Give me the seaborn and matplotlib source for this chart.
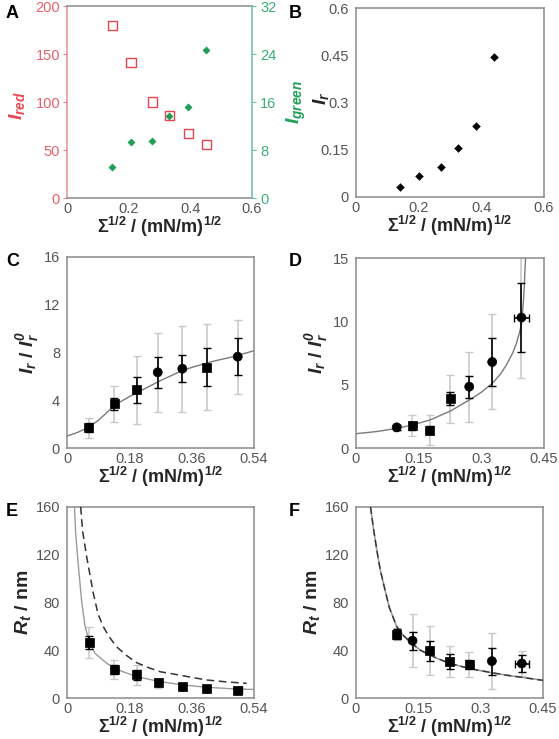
import numpy as np
import pandas as pd
import matplotlib
matplotlib.use("Agg")
import matplotlib.pyplot as plt
import seaborn as sns

# ---------------- data ----------------
# Panel A
a_x_red = [0.147, 0.208, 0.277, 0.333, 0.394, 0.452]
a_red = [180, 141, 100, 86, 67, 55.5]
a_x_green = [0.147, 0.206, 0.276, 0.332, 0.391, 0.451]
a_green = [5.1, 9.3, 9.5, 13.6, 15.1, 24.6]

# Panel B
b_x = [0.142, 0.202, 0.270, 0.327, 0.384, 0.442]
b_y = [0.033, 0.066, 0.095, 0.156, 0.226, 0.445]

# Panel C
c_x = [0.0635, 0.137, 0.202, 0.262, 0.333, 0.403, 0.493]
c_y = [1.70, 3.71, 4.86, 6.34, 6.64, 6.76, 7.65]
c_err_black = [0.4, 0.5, 1.1, 1.3, 1.15, 1.6, 1.55]
c_err_grey = [0.85, 1.5, 2.85, 3.3, 3.6, 3.6, 3.1]
c_mk = ['s', 's', 's', 'o', 'o', 's', 'o']
c_fit_x = [0, 0.03, 0.06, 0.09, 0.12, 0.15, 0.18, 0.21, 0.24, 0.27, 0.30,
           0.33, 0.36, 0.39, 0.42, 0.45, 0.48, 0.51, 0.54]
c_fit_y = [1.0, 1.3, 1.7, 2.3, 3.1, 3.8, 4.3, 4.75, 5.2, 5.65, 6.05,
           6.45, 6.75, 7.0, 7.25, 7.45, 7.65, 7.9, 8.15]

# Panel D
d_x = [0.0974, 0.135, 0.177, 0.226, 0.271, 0.326, 0.396]
d_y = [1.63, 1.74, 1.42, 3.89, 4.84, 6.79, 10.3]
d_err_black = [0.2, 0.3, 0.35, 0.5, 0.88, 1.92, 2.7]
d_err_grey = [0.25, 0.83, 1.2, 1.9, 2.75, 3.75, 4.8]
d_xerr = [0, 0, 0, 0, 0, 0, 0.0175]
d_mk = ['o', 's', 's', 's', 'o', 'o', 'o']
d_fit_x = [0, 0.05, 0.0974, 0.135, 0.177, 0.226, 0.271, 0.30, 0.326, 0.345,
           0.36, 0.375, 0.384, 0.392, 0.397, 0.402, 0.406, 0.409]
d_fit_y = [1.13, 1.3, 1.55, 1.82, 2.21, 2.92, 3.79, 4.4, 5.1, 5.8,
           6.55, 7.5, 8.26, 9.2, 9.97, 12.2, 15.2, 17.0]

# Panel E
e_x = [0.0645, 0.136, 0.201, 0.263, 0.333, 0.403, 0.493]
e_y = [46.3, 23.7, 19.3, 12.6, 9.5, 7.8, 6.7]
e_err_black = [5.5, 4, 4, 2.5, 2, 2, 2]
e_err_grey = [13, 8, 8, 4, 3, 3, 3]
e_xerr = [0, 0, 0, 0, 0, 0, 0.012]
e_mk = ['s', 's', 's', 's', 's', 's', 's']
e_fit_x = [0.0215, 0.025, 0.033, 0.042, 0.052, 0.0635, 0.081, 0.115, 0.148,
           0.201, 0.269, 0.336, 0.403, 0.49, 0.54]
e_fit_y = [160, 138, 110, 82, 60, 48.6, 37.4, 29, 23.5,
           17.9, 13.7, 10.9, 9.0, 7.5, 7.2]
e_dash_x = [0.0395, 0.045, 0.057, 0.076, 0.09, 0.105, 0.12, 0.143, 0.17, 0.201,
            0.235, 0.269, 0.30, 0.333, 0.37, 0.403, 0.46, 0.519]
e_dash_y = [160, 140, 118, 87.7, 70, 59.7, 52, 43, 36, 29.6,
            25.5, 22, 20.5, 18.7, 16.8, 15.1, 13.5, 12.3]

# Panel F
f_x = [0.098, 0.136, 0.178, 0.226, 0.272, 0.327, 0.399]
f_y = [53.6, 48, 39.5, 30.6, 28.1, 30.9, 28.9]
f_err_black = [4, 7.5, 8.4, 6, 4, 11.4, 7]
f_err_grey = [5, 22, 20.4, 12.8, 10.8, 23.4, 10.8]
f_xerr = [0, 0, 0, 0, 0, 0, 0.0175]
f_mk = ['s', 'o', 's', 's', 's', 'o', 'o']
f_fit_x = [0.035, 0.042, 0.05, 0.058, 0.066, 0.08, 0.098, 0.115, 0.136, 0.155,
           0.178, 0.2, 0.226, 0.25, 0.272, 0.3, 0.327, 0.36, 0.399, 0.45]
f_fit_y = [160, 142, 124, 108, 96, 76, 59.7, 52, 45.2, 40,
           36, 32.5, 29, 26.8, 24.8, 22.9, 21.2, 19.2, 17.3, 14.8]

# ---------------- style ----------------
sns.set_style("white")
plt.rcParams['font.family'] = ['Liberation Sans', 'DejaVu Sans']
plt.rcParams['mathtext.fontset'] = 'custom'
plt.rcParams['mathtext.rm'] = 'Liberation Sans'
plt.rcParams['mathtext.it'] = 'Liberation Sans:italic'
plt.rcParams['mathtext.bf'] = 'Liberation Sans:bold'
plt.rcParams['mathtext.bfit'] = 'Liberation Sans:italic:bold'
plt.rcParams['mathtext.sf'] = 'Liberation Sans'

SPINE = '#8a8a8a'
TICKC = '#555555'
RED = '#e8464e'
RED_L = '#e8606a'
GREEN = '#1f9f55'
GREEN_L = '#3aae78'
GREY_EB = '#c9c9c9'
TICK_FS = 10.5
YL_FS = 14

XLABEL = 'Σ$^{\\mathbf{1/2}}$ / (mN/m)$^{\\mathbf{1/2}}$'

fig = plt.figure(figsize=(5.59, 7.39), dpi=100)

W, H = 559.0, 739.0
def pos(l, r, t, b):
    return [l / W, (H - b) / H, (r - l) / W, (b - t) / H]

axA = fig.add_axes(pos(67, 252, 6, 198))
axB = fig.add_axes(pos(356, 544, 8, 197))
axC = fig.add_axes(pos(67, 254, 257, 448))
axD = fig.add_axes(pos(356, 544, 258, 448))
axE = fig.add_axes(pos(67, 254, 507, 698))
axF = fig.add_axes(pos(356, 543, 507, 698))

def style_ax(ax):
    for s in ax.spines.values():
        s.set_color(SPINE)
        s.set_linewidth(1.1)
    ax.tick_params(axis='both', labelsize=TICK_FS, labelcolor=TICKC, color=SPINE,
                   length=3, width=0.8)
    ax.tick_params(axis='x', direction='in', pad=3)
    ax.tick_params(axis='y', direction='out', pad=2)
    ax.set_xlabel(XLABEL, fontsize=13, fontweight='bold', labelpad=-1)

# ---------- A ----------
style_ax(axA)
axA2 = axA.twinx()
sns.scatterplot(x=a_x_red, y=a_red, marker='s', s=45, ax=axA, legend=False,
                zorder=3)
coll = axA.collections[-1]
coll.set_facecolor('none')
coll.set_edgecolor(RED)
coll.set_linewidth(1.0)
sns.scatterplot(x=a_x_green, y=a_green, marker='D', s=14, color=GREEN,
                edgecolor=GREEN, ax=axA2, legend=False, zorder=4)
axA.set_xlim(0, 0.6)
axA.set_ylim(0, 200)
axA2.set_ylim(0, 32)
axA.set_xticks([0, 0.2, 0.4, 0.6])
axA.set_xticklabels(['0', '0.2', '0.4', '0.6'])
axA.set_yticks([0, 50, 100, 150, 200])
axA2.set_yticks([0, 8, 16, 24, 32])
axA.spines['left'].set_color('#e98a8e')
axA.spines['right'].set_visible(False)
for s in axA2.spines.values():
    s.set_visible(False)
axA2.spines['right'].set_visible(True)
axA2.spines['right'].set_color('#6cbf9a')
axA2.spines['right'].set_linewidth(1.1)
axA.tick_params(axis='y', labelcolor=RED_L, color='#e98a8e')
axA2.tick_params(axis='y', labelsize=TICK_FS, labelcolor=GREEN_L, color='#6cbf9a',
                 length=3, direction='out', pad=3)
axA.set_ylabel(r'$\mathbfit{I}_{\mathbfit{red}}$', color=RED, fontsize=YL_FS)
axA.yaxis.set_label_coords(-0.215, 0.48)
axA2.set_ylabel(r'$\mathbfit{I}_{\mathbfit{green}}$', color=GREEN,
                fontsize=YL_FS)
axA2.yaxis.set_label_coords(1.175, 0.5)

# ---------- B ----------
style_ax(axB)
sns.scatterplot(x=b_x, y=b_y, marker='D', s=16, color='black',
                edgecolor='black', ax=axB, legend=False)
axB.set_xlim(0, 0.6)
axB.set_ylim(0, 0.6)
axB.set_xticks([0, 0.2, 0.4, 0.6])
axB.set_xticklabels(['0', '0.2', '0.4', '0.6'])
axB.set_yticks([0, 0.15, 0.3, 0.45, 0.6])
axB.set_yticklabels(['0', '0.15', '0.3', '0.45', '0.6'])
axB.set_ylabel(r'$\mathbfit{I}_{\mathbfit{r}}$', fontsize=YL_FS)
axB.yaxis.set_label_coords(-0.135, 0.52)

# ---------- helper for C-F ----------
def data_panel(ax, x, y, eb, eg, mk, xerr=None):
    ax.errorbar(x, y, yerr=eg, fmt='none', ecolor=GREY_EB, elinewidth=1.2,
                capsize=3, capthick=1.0, zorder=2)
    ax.errorbar(x, y, yerr=eb, xerr=xerr, fmt='none', ecolor='black',
                elinewidth=1.2, capsize=3, capthick=1.0, zorder=4)
    df = pd.DataFrame({'x': x, 'y': y, 'm': mk})
    sns.scatterplot(data=df, x='x', y='y', style='m',
                    markers={'s': 's', 'o': 'o'}, s=42, color='black',
                    edgecolor='black', linewidth=0.5, ax=ax, legend=False,
                    zorder=5)

IR_LABEL = r'$\mathbfit{I}_{\mathbfit{r}}\mathbf{\ /\ }\mathbfit{I}_{\mathbfit{r}}^{\mathbfit{0}}$'
RT_LABEL = r'$\mathbfit{R}_{\mathbfit{t}}\mathbf{\ /\ nm}$'

# ---------- C ----------
style_ax(axC)
sns.lineplot(x=c_fit_x, y=c_fit_y, sort=False, estimator=None, color='#7a7a7a',
             lw=1.0, ax=axC, zorder=3)
data_panel(axC, c_x, c_y, c_err_black, c_err_grey, c_mk)
axC.set_xlim(0, 0.54)
axC.set_ylim(0, 16)
axC.set_xticks([0, 0.18, 0.36, 0.54])
axC.set_xticklabels(['0', '0.18', '0.36', '0.54'])
axC.set_yticks([0, 4, 8, 12, 16])
axC.set_ylabel(IR_LABEL, fontsize=YL_FS, labelpad=2)

# ---------- D ----------
style_ax(axD)
sns.lineplot(x=d_fit_x, y=d_fit_y, sort=False, estimator=None, color='#7a7a7a',
             lw=1.0, ax=axD, zorder=3)
data_panel(axD, d_x, d_y, d_err_black, d_err_grey, d_mk, xerr=d_xerr)
axD.set_xlim(0, 0.45)
axD.set_ylim(0, 15)
axD.set_xticks([0, 0.15, 0.3, 0.45])
axD.set_xticklabels(['0', '0.15', '0.3', '0.45'])
axD.set_yticks([0, 5, 10, 15])
axD.set_ylabel(IR_LABEL, fontsize=YL_FS, labelpad=2)

# ---------- E ----------
style_ax(axE)
sns.lineplot(x=e_fit_x, y=e_fit_y, sort=False, estimator=None, color='#9a9a9a',
             lw=1.0, ax=axE, zorder=3)
sns.lineplot(x=e_dash_x, y=e_dash_y, sort=False, estimator=None, color='#333333',
             lw=1.1, linestyle=(0, (5, 3)), ax=axE, zorder=3)
data_panel(axE, e_x, e_y, e_err_black, e_err_grey, e_mk, xerr=e_xerr)
axE.set_xlim(0, 0.54)
axE.set_ylim(0, 160)
axE.set_xticks([0, 0.18, 0.36, 0.54])
axE.set_xticklabels(['0', '0.18', '0.36', '0.54'])
axE.set_yticks([0, 40, 80, 120, 160])
axE.set_ylabel(RT_LABEL, fontsize=YL_FS, labelpad=2)

# ---------- F ----------
style_ax(axF)
sns.lineplot(x=f_fit_x, y=f_fit_y, sort=False, estimator=None, color='#9a9a9a',
             lw=1.2, ax=axF, zorder=3)
sns.lineplot(x=f_fit_x, y=f_fit_y, sort=False, estimator=None, color='#333333',
             lw=1.0, linestyle=(0, (5, 3)), ax=axF, zorder=3)
data_panel(axF, f_x, f_y, f_err_black, f_err_grey, f_mk, xerr=f_xerr)
axF.set_xlim(0, 0.45)
axF.set_ylim(0, 160)
axF.set_xticks([0, 0.15, 0.3, 0.45])
axF.set_xticklabels(['0', '0.15', '0.3', '0.45'])
axF.set_yticks([0, 40, 80, 120, 160])
axF.set_ylabel(RT_LABEL, fontsize=YL_FS, labelpad=2)

# panel letters
for lab, px, py in [('A', 6, 14), ('B', 289, 14), ('C', 6, 262), ('D', 289, 262),
                    ('E', 6, 512), ('F', 289, 512)]:
    fig.text(px / W, 1 - py / H, lab, fontsize=13, fontweight='bold',
             ha='left', va='center', color='black')

fig.savefig('out.png', dpi=100)
